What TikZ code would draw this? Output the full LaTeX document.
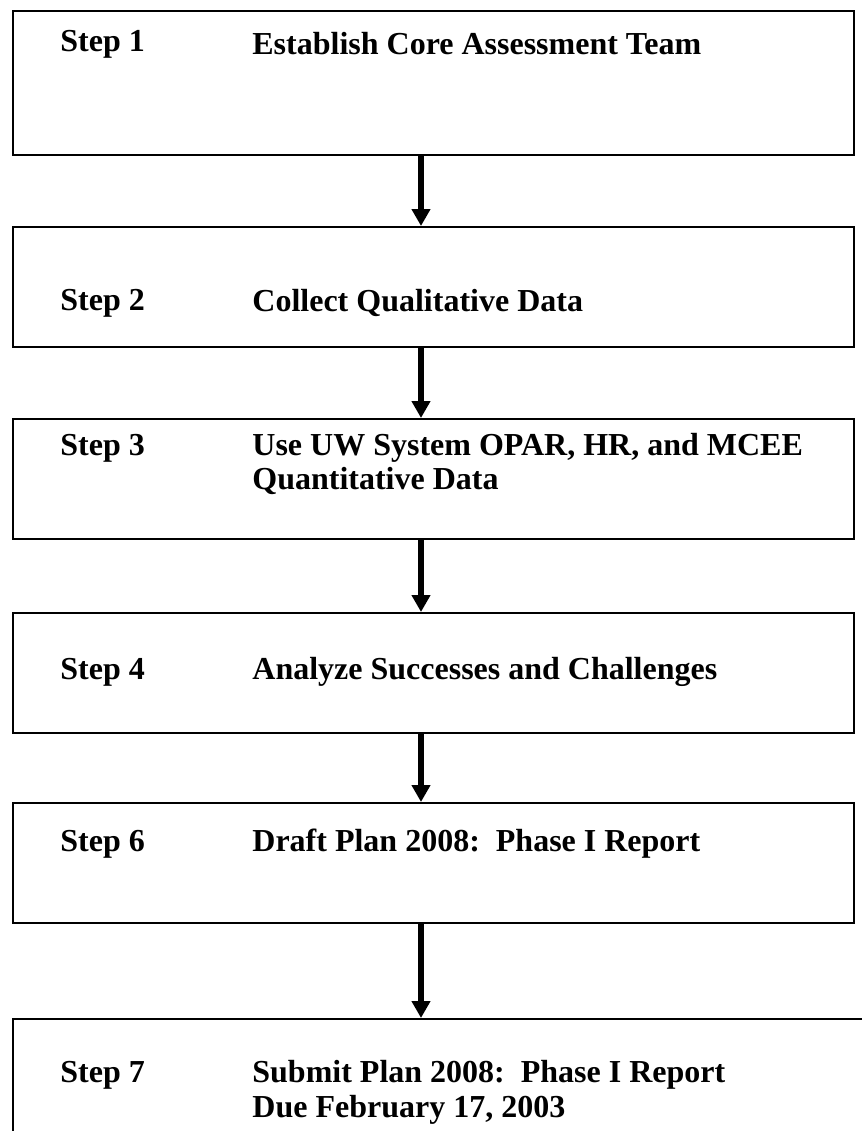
\documentclass[tikz,border=0pt]{standalone}
\usepackage{fontspec}
\setmainfont{Liberation Serif}
\usetikzlibrary{arrows.meta}
\begin{document}
\begin{tikzpicture}[x=0.5pt,y=-0.5pt,
  stepbox/.style={draw=black,line width=1pt,inner sep=0pt,anchor=north west},
  lbl/.style={anchor=west,font=\fontsize{16}{18}\selectfont\bfseries,inner sep=0pt},
  flow/.style={line width=3pt,-{Triangle[width=9pt,length=8.5pt]}}]
\useasboundingbox[fill=white] (0,0) rectangle (862,1131);
\node[stepbox,minimum width=841*0.5pt,minimum height=144*0.5pt] (b1) at (12,10) {};
\node[stepbox,minimum width=841*0.5pt,minimum height=120*0.5pt] (b2) at (12,226) {};
\node[stepbox,minimum width=841*0.5pt,minimum height=120*0.5pt] (b3) at (12,418) {};
\node[stepbox,minimum width=841*0.5pt,minimum height=120*0.5pt] (b4) at (12,612) {};
\node[stepbox,minimum width=841*0.5pt,minimum height=120*0.5pt] (b6) at (12,802) {};
\node[stepbox,minimum width=900*0.5pt,minimum height=200*0.5pt] (b7) at (12,1018) {};
\node[lbl] (s1) at (60,44) {Step 1};
\node[lbl] (t1) at (252,44) {Establish Core Assessment Team};
\node[lbl] (s2) at (60,303) {Step 2};
\node[lbl] (t2) at (252,303) {Collect Qualitative Data};
\node[lbl] (s3) at (60,448) {Step 3};
\node[lbl] (t3) at (252,448) {Use UW System OPAR, HR, and MCEE};
\node[lbl] (t3b) at (252,481) {Quantitative Data};
\node[lbl] (s4) at (60,672) {Step 4};
\node[lbl] (t4) at (252,672) {Analyze Successes and Challenges};
\node[lbl] (s6) at (60,844) {Step 6};
\node[lbl] (t6) at (252,844) {Draft Plan 2008:\ \ Phase I Report};
\node[lbl] (s7) at (60,1075) {Step 7};
\node[lbl] (t7) at (252,1075) {Submit Plan 2008:\ \ Phase I Report};
\node[lbl] (t7b) at (252,1110) {Due February 17, 2003};
\draw[flow] (b1.south -| 421,0) -- (b2.north -| 421,0);
\draw[flow] (b2.south -| 421,0) -- (b3.north -| 421,0);
\draw[flow] (b3.south -| 421,0) -- (b4.north -| 421,0);
\draw[flow] (b4.south -| 421,0) -- (b6.north -| 421,0);
\draw[flow] (b6.south -| 421,0) -- (b7.north -| 421,0);
\end{tikzpicture}
\end{document}
